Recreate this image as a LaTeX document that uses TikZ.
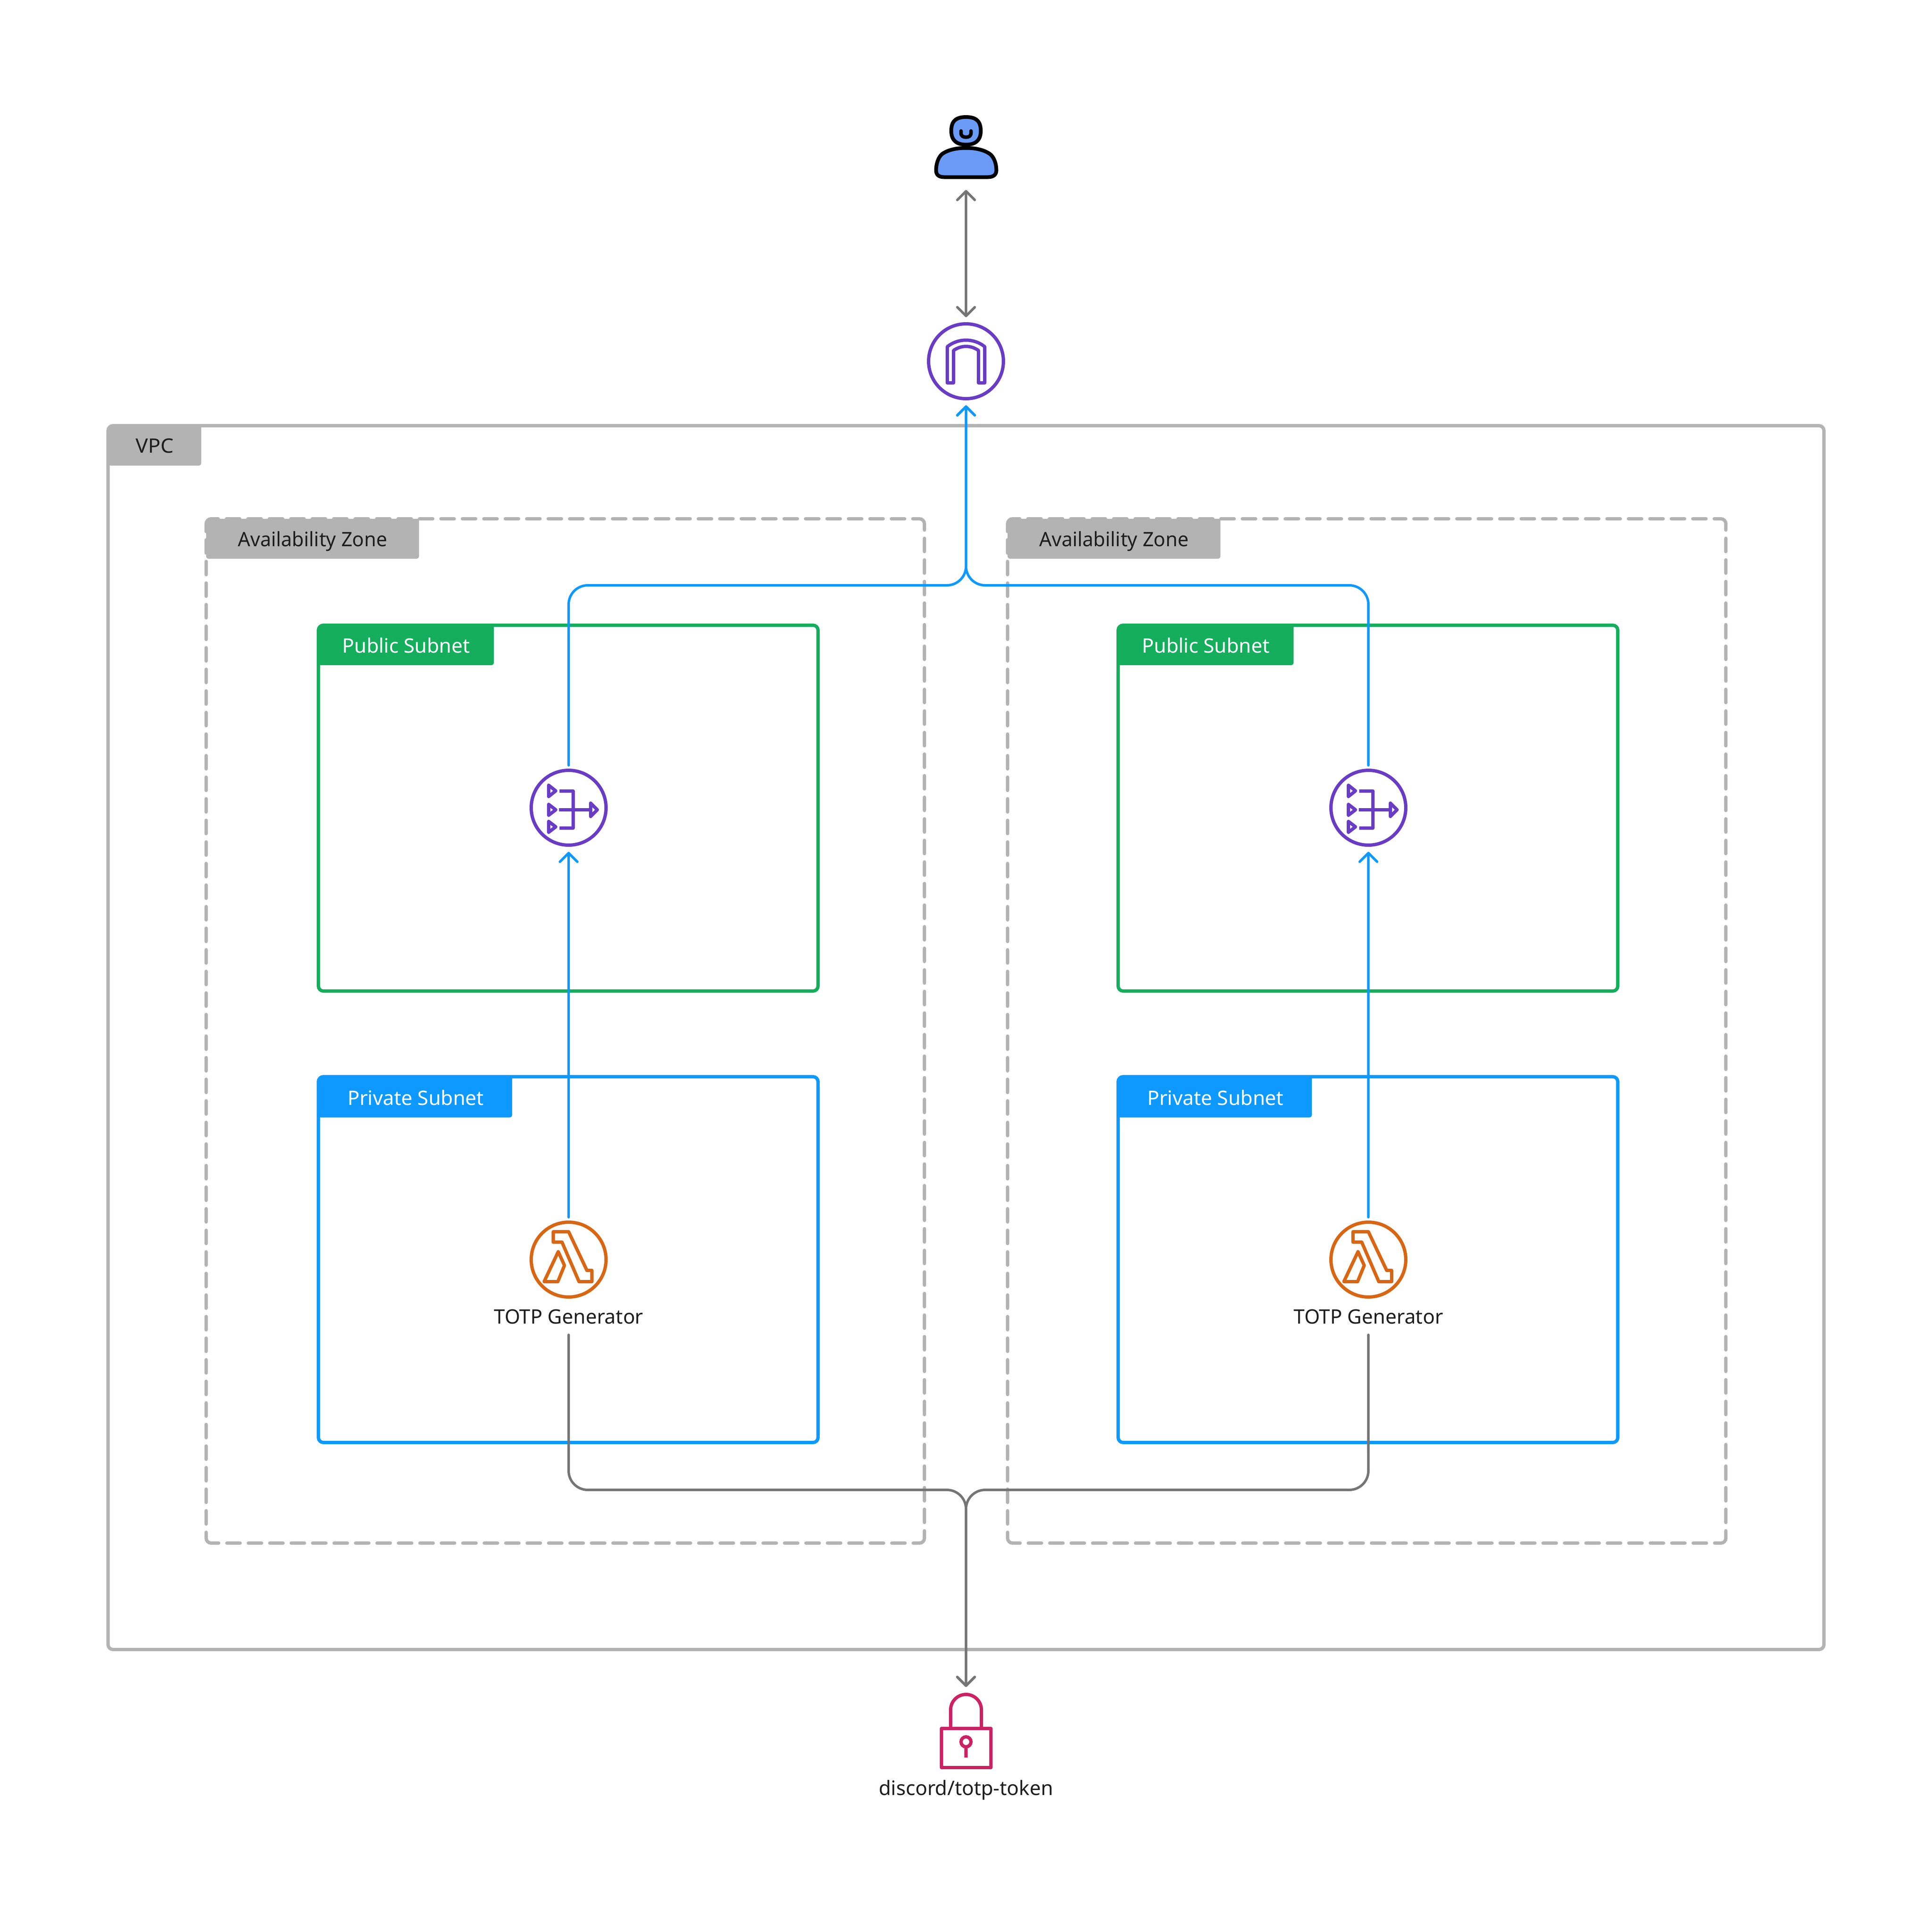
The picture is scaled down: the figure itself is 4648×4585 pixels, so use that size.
\documentclass[tikz,border=0pt]{standalone}
\usepackage{fontspec}
\setmainfont{Noto Sans}
\usetikzlibrary{arrows.meta}
\definecolor{figBlue}{HTML}{0D99FF}
\definecolor{figGreen}{HTML}{14AE5C}
\definecolor{wireGray}{HTML}{757575}
\definecolor{frameGray}{HTML}{B3B3B3}
\definecolor{inkDark}{HTML}{1E1E1E}
\definecolor{userBlue}{HTML}{699BF7}
\definecolor{netPurple}{HTML}{693CC5}
\definecolor{computeOrange}{HTML}{D86613}
\definecolor{secretPink}{HTML}{CC2264}
\tikzset{
  framebox/.style={draw=#1,line width=8bp,rounded corners=12bp,inner sep=0pt,outer sep=0pt,rectangle},
  lbl/.style={anchor=base,inner sep=0pt,outer sep=0pt,text=inkDark,font=\fontsize{48}{57}\selectfont},
  lblw/.style={lbl,text=white},
  wire/.style={line width=6bp,line cap=round,rounded corners=46bp,>={Straight Barb[length=21bp,width=42bp,round]}},
  bluewire/.style={wire,draw=figBlue},
  graywire/.style={wire,draw=wireGray},
  iconring/.style={circle,draw=#1,line width=8bp,minimum size=180bp,inner sep=0pt,outer sep=16bp},
  glyph/.style={draw=#1,line width=8bp,line join=round,line cap=round},
  dashh/.style={draw=frameGray,line width=8bp,line cap=round,dash pattern=on 32bp off 19.6bp,dash phase=#1},
  dashv/.style={draw=frameGray,line width=8bp,line cap=round,dash pattern=on 32bp off 19.9bp,dash phase=#1},
  azcorner/.style={draw=frameGray,line width=8bp,line cap=round,rounded corners=12bp},
}
\newcommand{\tabshape}[5]{% x1,y1,x2,y2,colour
  \fill[#5] (#1+20,#2) [rounded corners=12bp] -- (#1,#2) [rounded corners=6bp] -- (#1,#4) -- (#3,#4) [sharp corners] -- (#3,#2) -- cycle;
}
\newcommand{\azframe}[1]{%
  \begin{scope}[xshift=#1bp]
    \draw[dashh=16bp] (2212,1248) -- (508,1248);
    \draw[dashv=17bp] (2224,1260) -- (2224,3700);
    \draw[dashh=17bp] (2212,3712) -- (508,3712);
    \draw[dashv=18bp] (496,3700) -- (496,1260);
    \draw[azcorner] (2212,1248) -- (2224,1248) -- (2224,1260);
    \draw[azcorner] (2224,3700) -- (2224,3712) -- (2212,3712);
    \draw[azcorner] (508,3712) -- (496,3712) -- (496,3700);
    \draw[azcorner] (496,1260) -- (496,1248) -- (508,1248);
  \end{scope}}
\newcommand{\natglyph}[1]{%
  \begin{scope}[xshift=#1bp]
    \draw[glyph=netPurple] (1320,1889) -- (1320,1916) -- (1337,1902.5) -- cycle;
    \draw[glyph=netPurple] (1320,1935) -- (1320,1961) -- (1337,1948) -- cycle;
    \draw[glyph=netPurple] (1320,1976) -- (1320,2002) -- (1337,1989) -- cycle;
    \draw[netPurple,line width=8bp,line join=round] (1346,1903) -- (1379,1903) -- (1379,1992) -- (1346,1992);
    \draw[netPurple,line width=8bp] (1345,1948) -- (1421,1948);
    \draw[glyph=netPurple] (1421,1932) -- (1421,1964) -- (1437,1948) -- cycle;
  \end{scope}}
\newcommand{\lambdaglyph}[1]{%
  \begin{scope}[xshift=#1bp]
    \draw[glyph=computeOrange] (1331,2963) -- (1368,2963) -- (1412,3056) -- (1424,3056) -- (1424,3083) -- (1393,3083) -- (1352,2988) -- (1331,2988) -- cycle;
    \draw[glyph=computeOrange] (1343,3011) -- (1358,3044) -- (1342,3083) -- (1309,3083) -- cycle;
  \end{scope}}
\begin{document}
\begin{tikzpicture}[x=1bp,y=-1bp]
\useasboundingbox (0,0) rectangle (4648,4585);
\fill[white] (0,0) rectangle (4648,4585);

% VPC
\node[framebox=frameGray,minimum width=4128bp,minimum height=2944bp] (vpc) at (2324,2496) {};
\tabshape{260}{1024}{484}{1120}{frameGray}
\node[lbl] (vpclabel) at (372,1089.5) {\scalebox{1.04}[1]{VPC}};

% Availability zones
\azframe{0}
\azframe{1928}
\tabshape{496}{1248}{1008}{1344}{frameGray}
\tabshape{2424}{1248}{2936}{1344}{frameGray}
\node[lbl] (azlabel1) at (752,1314.5) {\scalebox{0.98}[1]{Availability Zone}};
\node[lbl] (azlabel2) at (2680,1314.5) {\scalebox{0.98}[1]{Availability Zone}};

% Subnets
\node[framebox=figGreen,minimum width=1202bp,minimum height=880bp] (pub1) at (1367,1944) {};
\node[framebox=figGreen,minimum width=1202bp,minimum height=880bp] (pub2) at (3291,1944) {};
\node[framebox=figBlue,minimum width=1202bp,minimum height=880bp] (priv1) at (1367,3030) {};
\node[framebox=figBlue,minimum width=1202bp,minimum height=880bp] (priv2) at (3291,3030) {};
\tabshape{766}{1504}{1188}{1600}{figGreen}
\tabshape{2690}{1504}{3112}{1600}{figGreen}
\tabshape{766}{2590}{1232}{2688}{figBlue}
\tabshape{2690}{2590}{3156}{2688}{figBlue}
\node[lblw] (publabel1) at (977,1570) {Public Subnet};
\node[lblw] (publabel2) at (2901,1570) {Public Subnet};
\node[lblw] (privlabel1) at (1000,2658) {Private Subnet};
\node[lblw] (privlabel2) at (2924,2658) {Private Subnet};

% User
\node[inner sep=0pt,outer sep=0pt,minimum width=160bp,minimum height=204bp] (user) at (2324,355) {};
\draw[black,fill=userBlue,line width=9bp,line join=round]
  (2324,356) .. controls (2347,356) and (2366,360) .. (2381,370)
  .. controls (2391,377) and (2397,393) .. (2397,410)
  .. controls (2397,420) and (2390,426) .. (2377,426) -- (2271,426)
  .. controls (2258,426) and (2252,420) .. (2252,410)
  .. controls (2252,393) and (2258,377) .. (2267,370)
  .. controls (2282,360) and (2301,356) .. (2324,356) -- cycle;
\draw[black,fill=userBlue,line width=9bp]
  (2324,281.5) .. controls (2350,281.5) and (2359.5,293) .. (2359.5,315)
  .. controls (2359.5,337) and (2347,348) .. (2324,348)
  .. controls (2301,348) and (2288.5,337) .. (2288.5,315)
  .. controls (2288.5,293) and (2298,281.5) .. (2324,281.5) -- cycle;
\draw[black,line width=8.5bp,line cap=round]
  (2312,315) -- (2312,320) .. controls (2312,327) and (2317,330) .. (2324,330)
  .. controls (2331,330) and (2336,327) .. (2336,320) -- (2336,315);

% Internet gateway
\node[iconring=netPurple] (igw) at (2324,869) {};
\draw[glyph=netPurple] (2279,921) -- (2279,834) .. controls (2305,813) and (2343,813) .. (2369,834) -- (2369,921) -- (2354,921) -- (2354,843) .. controls (2335,830) and (2313,830) .. (2294,843) -- (2294,921) -- cycle;

% NAT gateways
\node[iconring=netPurple] (nat1) at (1368,1943) {};
\node[iconring=netPurple] (nat2) at (3292,1943) {};
\natglyph{0}
\natglyph{1924}

% Lambdas
\node[iconring=computeOrange] (lam1) at (1368,3030) {};
\node[iconring=computeOrange] (lam2) at (3292,3030) {};
\lambdaglyph{0}
\lambdaglyph{1924}
\node[lbl,text depth=27bp] (totp1) at (1368,3184) {TOTP Generator};
\node[lbl,text depth=27bp] (totp2) at (3292,3184) {TOTP Generator};

% Secret
\node[inner sep=0pt,outer sep=0pt,minimum width=140bp,minimum height=210bp] (lock) at (2324,4163) {};
\draw[glyph=secretPink] (2264.5,4158) rectangle (2384,4252);
\draw[secretPink,line width=8bp] (2287,4156) -- (2287,4113) .. controls (2287,4092.6) and (2303.6,4076) .. (2324,4076)
  .. controls (2344.4,4076) and (2361,4092.6) .. (2361,4113) -- (2361,4156);
\draw[secretPink,line width=8bp] (2324,4190) circle[radius=12bp];
\draw[secretPink,line width=8bp] (2324,4205) -- (2324,4228);
\node[lbl] (locklabel) at (2324,4318) {discord/totp-token};

% Connectors
\coordinate (bluejoin) at (2324,1408);
\coordinate (grayjoin) at (2324,3584);
\draw[graywire,<->] (user.south) -- (igw.north);
\draw[bluewire,->,shorten <=-4bp] (nat1.north) |- (bluejoin) -- (igw.south);
\draw[bluewire,->,shorten <=-4bp] (nat2.north) |- (bluejoin) -- (igw.south);
\draw[bluewire,->,shorten <=-4bp] (lam1.north) -- (nat1.south);
\draw[bluewire,->,shorten <=-4bp] (lam2.north) -- (nat2.south);
\draw[graywire,->] (totp1.south) |- (grayjoin) -- (lock.north);
\draw[graywire,->] (totp2.south) |- (grayjoin) -- (lock.north);
\end{tikzpicture}
\end{document}
